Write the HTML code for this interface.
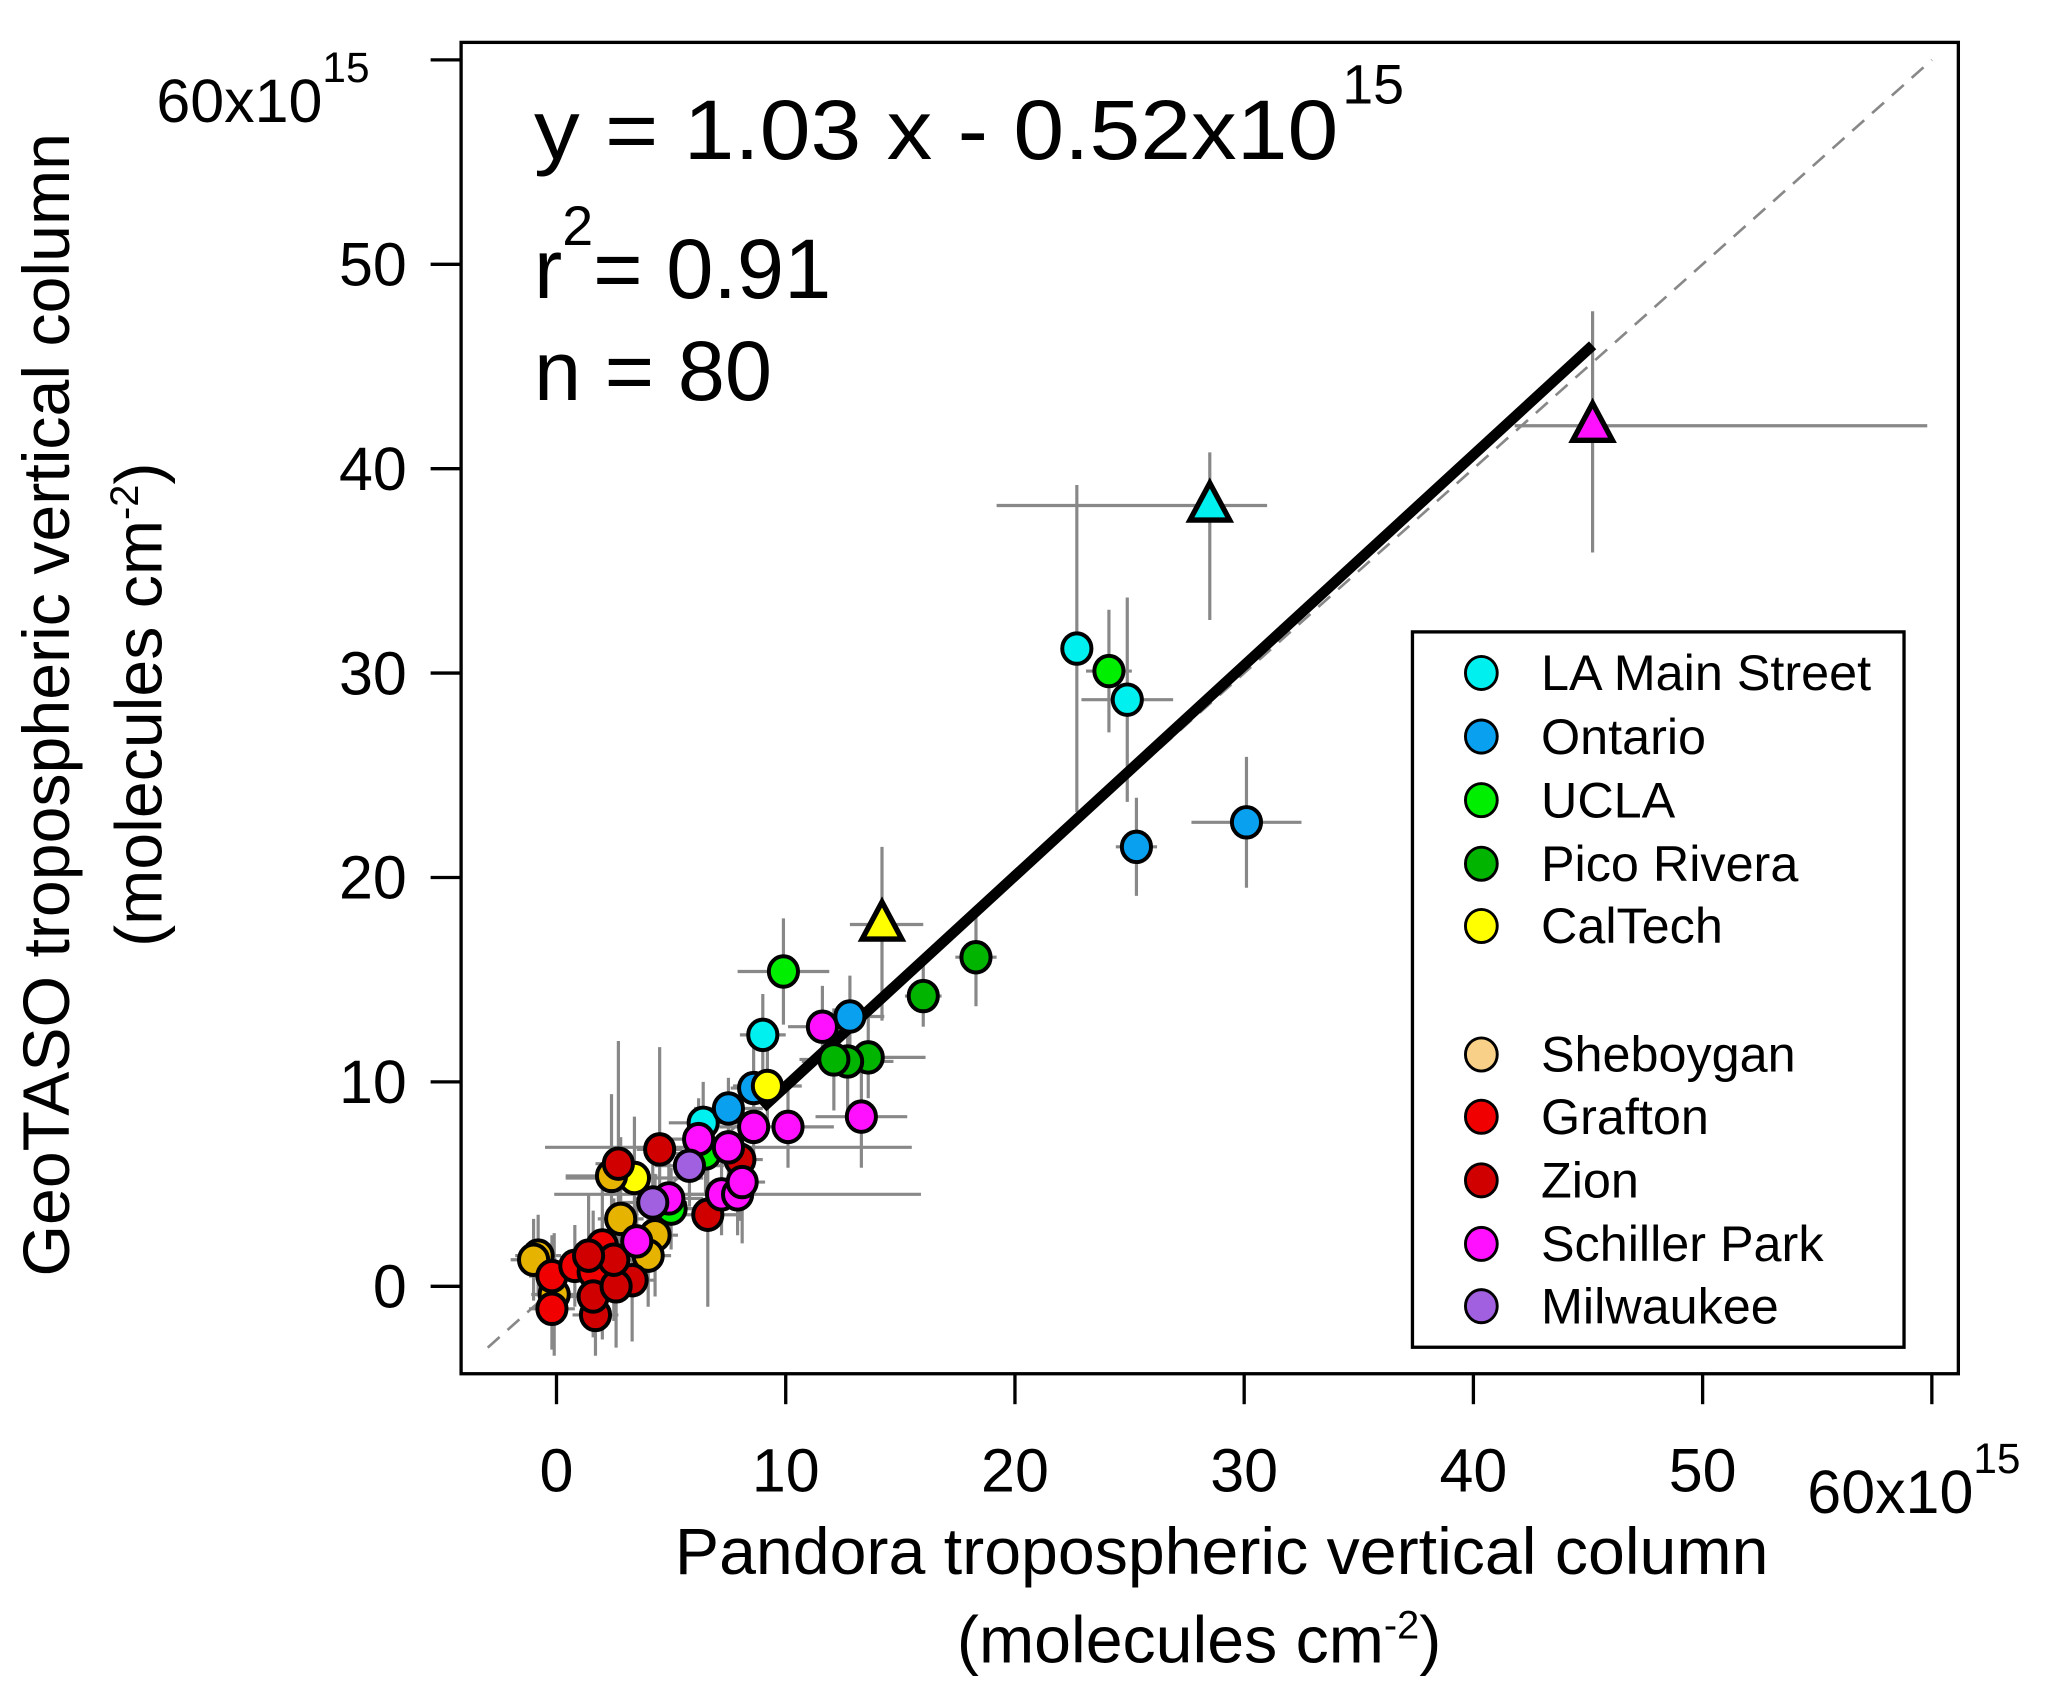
<!DOCTYPE html>
<html><head><meta charset="utf-8"><style>
html,body{margin:0;padding:0;background:#fff;}
svg{display:block;font-family:"Liberation Sans",Arial,sans-serif;}
</style></head><body>
<svg id="chart" width="2067" height="1693" viewBox="0 0 1560 1278" preserveAspectRatio="none" xmlns="http://www.w3.org/2000/svg">
<g id="errs"></g>
<line id="oneone" stroke="#888" stroke-width="2" stroke-dasharray="12,8"/>
<line id="fit" stroke="#000" stroke-width="8"/>
<g id="pts"></g>
<rect x="348" y="32" width="1130" height="1005" fill="none" stroke="#000" stroke-width="2.5"/>
<g id="axes"></g>
<text x="403" y="120" font-size="64" textLength="607" lengthAdjust="spacingAndGlyphs">y = 1.03 x - 0.52x10</text>
<text x="1013" y="78" font-size="42">15</text>
<text x="403" y="225" font-size="64">r<tspan font-size="42" dy="-40">2</tspan><tspan dy="40">= 0.91</tspan></text>
<text x="403" y="302" font-size="64">n = 80</text>
<text transform="translate(52,532) rotate(-90)" text-anchor="middle" font-size="50">GeoTASO tropospheric vertical column</text>
<text transform="translate(122,532) rotate(-90)" text-anchor="middle" font-size="50">(molecules cm<tspan font-size="30" dy="-18">-2</tspan><tspan dy="18">)</tspan></text>
<text x="922" y="1188" text-anchor="middle" font-size="50">Pandora tropospheric vertical column</text>
<text x="905" y="1255" text-anchor="middle" font-size="50">(molecules cm<tspan font-size="30" dy="-18">-2</tspan><tspan dy="18">)</tspan></text>
<g id="legend">
<rect x="1066" y="477" width="371" height="540" fill="#fff" stroke="#000" stroke-width="2.5"/>
</g>
</svg>
<script>
const sites = ["LA Main Street","Ontario","UCLA","Pico Rivera","CalTech","Sheboygan","Grafton","Zion","Schiller Park","Milwaukee"];
const siteColors = ["#00f0f0","#0aa0f0","#00ee00","#00b400","#ffff00","#e6b400","#f00000","#d00000","#ff10ff","#a060e0"];
const legendColors = ["#00f0f0","#0aa0f0","#00ee00","#00b400","#ffff00","#f8d088","#f00000","#d00000","#ff10ff","#a060e0"];
const ptSite = [0,0,0,0, 1,1,1,1,1, 2,2,2,2, 3,3,3,3,3, 4,4, 5,5,5,5,5,5,5,5, 6,6,6,6,6, 7,7,7,7,7,7,7,7,7,7, 8,8,8,8,8,8,8,8,8,8,8, 9,9];
const ptX = [22.7,24.9,9.0,6.4, 25.3,30.1,12.8,7.5,8.6, 9.9,24.1,6.5,5.0, 18.3,16.0,13.6,12.7,12.1, 9.2,3.4, -0.8,-1.0,2.8,2.4,4.3,4.0,2.0,-0.1, -0.2,0.8,-0.2,1.6,2.0, 2.7,4.5,8.0,6.6,1.7,1.6,3.3,2.6,2.5,1.4, 13.3,10.1,8.6,7.5,11.6,7.2,7.9,8.1,6.2,4.9,3.5, 5.8,4.2];
const ptY = [31.2,28.7,12.3,8.0, 21.5,22.7,13.2,8.7,9.7, 15.4,30.1,6.5,3.8, 16.1,14.2,11.2,11.0,11.1, 9.8,5.3, 1.5,1.3,3.3,5.4,2.5,1.5,0.4,-0.4, 0.5,1.0,-1.1,0.7,2.0, 6.0,6.7,6.2,3.5,-1.4,-0.5,0.3,0.0,1.3,1.5, 8.3,7.8,7.8,6.8,12.7,4.5,4.5,5.1,7.2,4.3,2.2, 5.9,4.1];
const ptXErr = [0.3,2.0,1.0,1.5, 0.9,2.4,1.5,1.5,1.0, 2.0,1.0,2.0,1.5, 0.9,0.8,2.5,2.0,1.5, 1.5,3.0, 1.0,1.0,1.0,2.0,1.0,1.0,1.5,1.0, 1.0,1.0,1.0,1.0,1.0, 1.0,1.0,1.0,1.5,1.0,1.0,1.0,1.0,1.0,1.0, 2.0,2.0,1.5,8.0,1.5,1.5,8.0,1.0,1.5,1.5,1.0, 1.5,1.5];
const ptYErr = [8.0,5.0,2.0,2.0, 2.4,3.2,2.0,1.5,2.0, 2.6,3.0,2.0,2.0, 2.4,1.5,2.0,3.0,2.5, 2.0,3.0, 2.0,2.0,4.0,4.0,3.0,2.5,3.0,3.0, 2.0,2.0,2.0,3.0,3.5, 6.0,5.0,3.0,4.5,2.0,2.0,3.0,3.0,3.0,3.0, 2.5,2.0,2.0,2.5,2.0,2.0,2.0,3.0,2.0,2.0,2.0, 2.0,2.0];
const triSite = [0,4,8];
const triX = [28.5,14.2,45.2];
const triY = [38.2,17.7,42.1];
const triXLo = [19.2,12.8,41.8];
const triXHi = [31.0,16.0,59.8];
const triYLo = [32.6,13.0,35.9];
const triYHi = [40.8,21.5,47.7];
const fitSlope = 1.03, fitIntercept = -0.52, fitXStart = 9.0, fitXEnd = 45.2;
const tickVals = [0,10,20,30,40,50];
const tickLabels = ["0","10","20","30","40","50"];

const X = v => 420 + v*17.3;
const Y = v => 971 - v*15.43;
const NS = "http://www.w3.org/2000/svg";
function mk(tag, attrs, parent){const e=document.createElementNS(NS,tag);for(const k in attrs)e.setAttribute(k,attrs[k]);parent.appendChild(e);return e;}
const errs=document.getElementById('errs'), pts=document.getElementById('pts'), axes=document.getElementById('axes'), legend=document.getElementById('legend');
const ec={stroke:"#888","stroke-width":2.4};
for(let i=0;i<ptX.length;i++){
  let h=mk('line',{x1:X(ptX[i]-ptXErr[i]),x2:X(ptX[i]+ptXErr[i]),y1:Y(ptY[i]),y2:Y(ptY[i]),...ec},errs);
  
  
  let v=mk('line',{x1:X(ptX[i]),x2:X(ptX[i]),y1:Y(ptY[i]-ptYErr[i]),y2:Y(ptY[i]+ptYErr[i]),...ec},errs);
  
  
}
for(let i=0;i<triX.length;i++){
  let h=mk('line',{x1:X(triXLo[i]),x2:X(triXHi[i]),y1:Y(triY[i]),y2:Y(triY[i]),...ec},errs);
  
  
  let v=mk('line',{x1:X(triX[i]),x2:X(triX[i]),y1:Y(triYLo[i]),y2:Y(triYHi[i]),...ec},errs);
  
  
}
const oo=document.getElementById('oneone');
oo.setAttribute('x1',X(-3));oo.setAttribute('y1',Y(-3));oo.setAttribute('x2',X(60));oo.setAttribute('y2',Y(60));
const fit=document.getElementById('fit');
fit.setAttribute('x1',X(fitXStart));fit.setAttribute('y1',Y(fitSlope*fitXStart+fitIntercept));
fit.setAttribute('x2',X(fitXEnd));fit.setAttribute('y2',Y(fitSlope*fitXEnd+fitIntercept));
for(let i=0;i<ptX.length;i++){
  const c=mk('ellipse',{cx:X(ptX[i]),cy:Y(ptY[i]),rx:11,ry:11.5,fill:siteColors[ptSite[i]],stroke:"#000","stroke-width":3},pts);
  
  
}
for(let i=0;i<triX.length;i++){
  const cx=X(triX[i]), cy=Y(triY[i]);
  const t=mk('polygon',{points:`${cx},${cy-17} ${cx-15},${cy+11} ${cx+15},${cy+11}`,fill:siteColors[triSite[i]],stroke:"#000","stroke-width":4,"stroke-linejoin":"miter"},pts);
  
  
}
for(let i=0;i<tickVals.length;i++){
  let t=mk('line',{x1:325,x2:348,y1:Y(tickVals[i]),y2:Y(tickVals[i]),stroke:"#000","stroke-width":2.5},axes);
  
  
  let l=mk('text',{x:307,y:Y(tickVals[i])+16,"text-anchor":"end","font-size":46},axes);l.textContent=tickLabels[i];
  
  
  let tx=mk('line',{x1:X(tickVals[i]),x2:X(tickVals[i]),y1:1037,y2:1060,stroke:"#000","stroke-width":2.5},axes);
  
  
  let lx=mk('text',{x:X(tickVals[i]),y:1126,"text-anchor":"middle","font-size":46},axes);lx.textContent=tickLabels[i];
  
  
}
let t60=mk('line',{x1:325,x2:348,y1:Y(60),y2:Y(60),stroke:"#000","stroke-width":2.5},axes);


let tx60=mk('line',{x1:X(60),x2:X(60),y1:1037,y2:1060,stroke:"#000","stroke-width":2.5},axes);


let ly=mk('text',{x:118,y:92,"font-size":46},axes);
ly.innerHTML='60x10<tspan font-size="32" dy="-30">15</tspan>';


let lx2=mk('text',{x:1364,y:1142,"font-size":46},axes);
lx2.innerHTML='60x10<tspan font-size="32" dy="-30">15</tspan>';


const legY=[508,556,604,652,699,796,843,891,939,986];
for(let i=0;i<sites.length;i++){
  const m=mk('ellipse',{cx:1118,cy:legY[i],rx:12,ry:12.5,fill:legendColors[i],stroke:"#000","stroke-width":2.2},legend);
  
  
  const tt=mk('text',{x:1163,y:legY[i]+13,"font-size":38},legend);tt.textContent=sites[i];
  
  
}
</script>
</body></html>
